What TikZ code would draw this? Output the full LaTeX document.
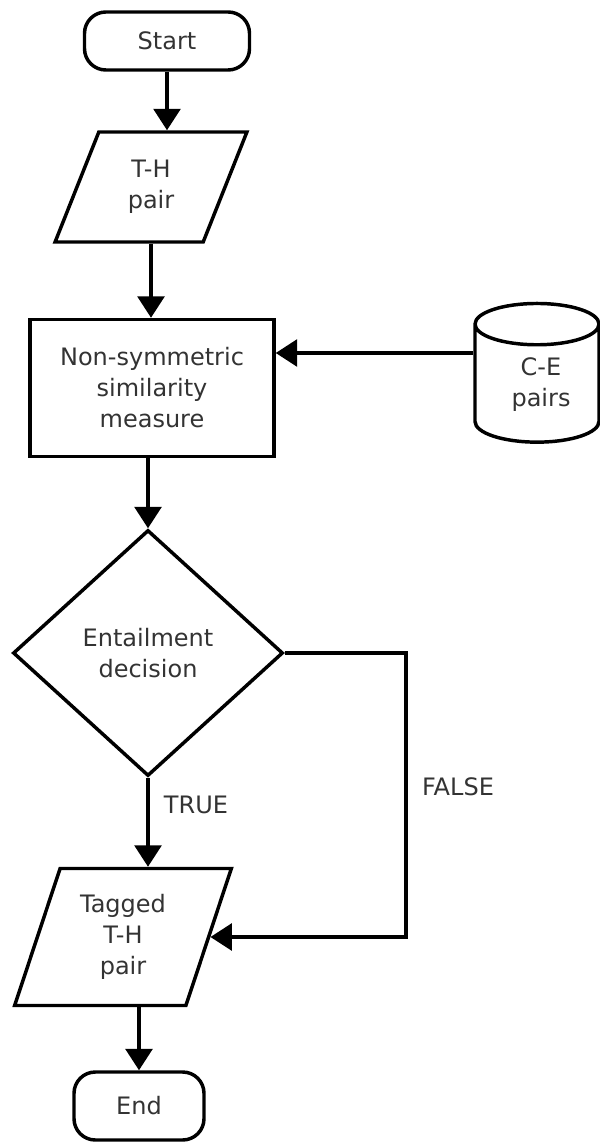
\documentclass[tikz,border=0pt]{standalone}
\usepackage{fontspec}
\setmainfont{DejaVu Sans}
\usetikzlibrary{shapes.geometric,arrows.meta}
\begin{document}
\begin{tikzpicture}[x=0.75pt,y=-0.75pt,line width=2.6pt,
  every node/.style={inner sep=0pt,text=black!80,align=center,font=\fontsize{18}{23.25}\selectfont},
  term/.style={draw=black,rectangle,rounded corners=16pt},
  inout/.style={draw=black,trapezium,trapezium left angle=70,trapezium right angle=110,trapezium stretches=true},
  proc/.style={draw=black,rectangle,minimum width=183pt,minimum height=102.75pt},
  decide/.style={draw=black,diamond,minimum width=202.5pt,minimum height=184.5pt},
  store/.style={draw=black,cylinder,shape border rotate=90,aspect=0.7,minimum width=93pt,minimum height=104pt},
  arr/.style={-{Triangle[length=16pt,width=20pt]}}]
\useasboundingbox (0,0) rectangle (599,1144);
\node[term,minimum width=123.75pt,minimum height=43.5pt] (start) at (167,41) {Start};
\node[inout,minimum width=144pt,minimum height=82.5pt] (thp) at (151,187) {T-H\\pair};
\node[proc] (nsm) at (152,388) {Non-symmetric\\similarity\\measure};
% drum shape, text placed a little lower on its own
\node[store] (ce) at (537,384) {\phantom{C-E}\\\phantom{pairs}};
\node (cetxt) at (541,385) {C-E\\pairs};
\node[decide] (dec) at (148,653) {Entailment\\decision};
\node[inout,minimum width=162.75pt,minimum height=102.75pt] (tag) at (123,937) {Tagged\\T-H\\pair};
\node[term,minimum width=97.5pt,minimum height=51pt] (end) at (139,1106) {End};
\node (truelbl) at (196,805) {TRUE};
\node (falselbl) at (458,787) {FALSE};
\coordinate (cin) at ([yshift=23.25pt]ce.west);
\coordinate (fc) at (406,653);
\draw[arr] (start.south) -- (start.south |- thp.north);
\draw[arr] (thp.south) -- (thp.south |- nsm.north);
\draw[arr] (dec.north |- nsm.south) -- (dec.north);
\draw[arr] (cin) -- (cin -| nsm.east);
\draw[arr] (dec.south) -- (dec.south |- tag.north);
\draw[arr] (dec.east) -- (fc) |- (tag.east);
\draw[arr] (end.north |- tag.south) -- (end.north);
\end{tikzpicture}
\end{document}
